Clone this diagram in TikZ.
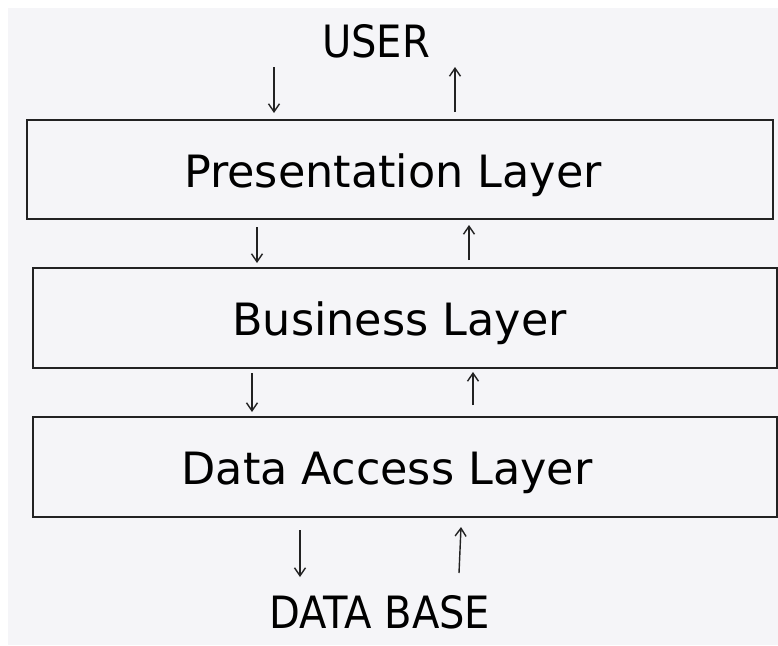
\documentclass[tikz,border=0pt]{standalone}
\usepackage{fontspec}
\setmainfont{DejaVu Sans}
\newfontfamily\condfont{DejaVu Sans Condensed}
\usetikzlibrary{arrows.meta}
\definecolor{bggray}{HTML}{F5F5F8}
\definecolor{linecol}{HTML}{222222}
\tikzset{
  layerbox/.style={draw=linecol, line width=2pt},
  layertext/.style={anchor=base, inner sep=0pt, font=\fontsize{44.5}{50}\selectfont, text=black},
  endtext/.style={anchor=base, inner sep=0pt, font=\condfont\fontsize{44.5}{50}\selectfont, text=black},
  flow/.style={draw=linecol, line width=1.4pt, -{Straight Barb[length=8pt,width=11pt,line width=1.4pt]}}
}
\begin{document}
\begin{tikzpicture}[x=1pt,y=-1pt]
\useasboundingbox (0,0) rectangle (778,645);
\fill[white] (0,0) rectangle (778,645);
\fill[bggray] (8,8) rectangle (778,645);
% boxes
\draw[layerbox] (27,120) rectangle (773,219);
\draw[layerbox] (33,268) rectangle (777,368);
\draw[layerbox] (33,417) rectangle (777,517);
% texts
\node[endtext] (user) at (376,57) {USER};
\node[layertext] (pres) at (393,187) {Presentation Layer};
\node[layertext] (bus) at (399.5,335) {Business Layer};
\node[layertext] (dal) at (387,484) {Data Access Layer};
\node[endtext] (db) at (380,628) {DATA BASE};
% arrow end points
\coordinate (a1s) at (274,67);  \coordinate (a1e) at (274,113);
\coordinate (a2s) at (455,112); \coordinate (a2e) at (455,67);
\coordinate (a3s) at (257,227); \coordinate (a3e) at (257,263);
\coordinate (a4s) at (469,260); \coordinate (a4e) at (469,225);
\coordinate (a5s) at (252,373); \coordinate (a5e) at (252,412);
\coordinate (a6s) at (473,405); \coordinate (a6e) at (473,372);
\coordinate (a7s) at (300,530); \coordinate (a7e) at (300,577);
\coordinate (a8s) at (459,573); \coordinate (a8e) at (461,527);
\draw[flow] (a1s) -- (a1e);
\draw[flow] (a2s) -- (a2e);
\draw[flow] (a3s) -- (a3e);
\draw[flow] (a4s) -- (a4e);
\draw[flow] (a5s) -- (a5e);
\draw[flow] (a6s) -- (a6e);
\draw[flow] (a7s) -- (a7e);
\draw[flow] (a8s) -- (a8e);
\end{tikzpicture}
\end{document}
